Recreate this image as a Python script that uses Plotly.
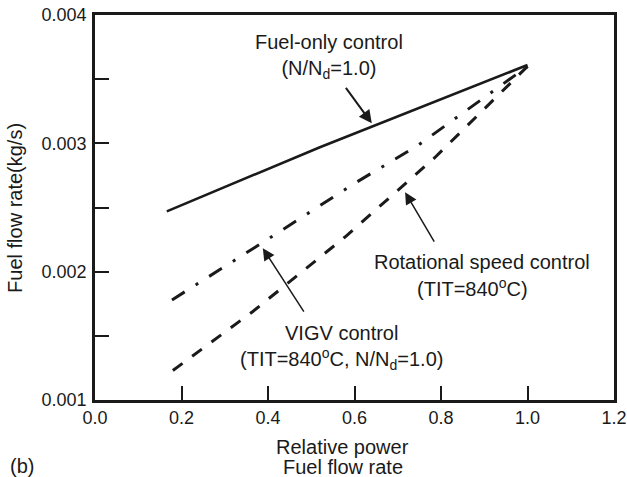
import plotly.graph_objects as go

# ---- data ----
fuel_only_x = [0.166, 0.52, 1.0]
fuel_only_y = [0.00247, 0.00297, 0.00361]

rot_speed_x = [0.178, 0.389, 0.601, 0.745, 1.0]
rot_speed_y = [0.00178, 0.00223, 0.00269, 0.00298, 0.0036]

vigv_x = [0.18, 0.365, 0.578, 0.786, 1.0]
vigv_y = [0.00123, 0.00169, 0.00227, 0.00289, 0.0036]

x_ticks = [0.0, 0.2, 0.4, 0.6, 0.8, 1.0, 1.2]
x_labels = ["0.0", "0.2", "0.4", "0.6", "0.8", "1.0", "1.2"]
y_ticks = [0.001, 0.0015, 0.002, 0.0025, 0.003, 0.0035, 0.004]
y_labels = ["0.001", "", "0.002", "", "0.003", "", "0.004"]

FONT = "Liberation Sans, Arial, sans-serif"
INK = "#1a1a1a"

fig = go.Figure()
fig.add_trace(go.Scatter(x=fuel_only_x, y=fuel_only_y, mode="lines",
                         line=dict(color=INK, width=2.6), showlegend=False))
fig.add_trace(go.Scatter(x=rot_speed_x, y=rot_speed_y, mode="lines",
                         line=dict(color=INK, width=3, dash="15px,13px,3px,13px"),
                         showlegend=False))
fig.add_trace(go.Scatter(x=vigv_x, y=vigv_y, mode="lines",
                         line=dict(color=INK, width=3, dash="12px,12px"),
                         showlegend=False))

axis_common = dict(showgrid=False, zeroline=False, showline=True, linecolor=INK,
                   linewidth=2.6, mirror=True, ticks="inside", tickcolor=INK,
                   tickwidth=2, ticklen=14, automargin=False,
                   tickfont=dict(family=FONT, size=18, color=INK))

fig.update_xaxes(range=[0, 1.2], tickvals=x_ticks, ticktext=x_labels, **axis_common)
fig.update_yaxes(range=[0.001, 0.004], tickvals=y_ticks, ticktext=y_labels,
                 ticklabelstandoff=2, **axis_common)

ann_font = dict(family=FONT, size=20, color=INK)
C = dict(xanchor="center", yanchor="middle")
annotations = [
    dict(x=0.541, y=0.003673, xref="x", yref="y", showarrow=False,
         text="Fuel-only control<br>(N/N<sub>d</sub>=1.0)", font=ann_font, align="center", **C),
    dict(x=0.895, y=0.002074, xref="x", yref="y", showarrow=False,
         text="Rotational speed control", font=ann_font, **C),
    dict(x=0.873, y=0.00188, xref="x", yref="y", showarrow=False,
         text="(TIT=840<sup>o</sup>C)", font=ann_font, **C),
    dict(x=0.569, y=0.00141, xref="x", yref="y", showarrow=False,
         text="VIGV control<br>(TIT=840<sup>o</sup>C, N/N<sub>d</sub>=1.0)",
         font=ann_font, align="center", **C),
    # arrows
    dict(x=0.640, y=0.003156, xref="x", yref="y", ax=-27, ay=-37, text="",
         showarrow=True, arrowhead=2, arrowsize=1.3, arrowwidth=2, arrowcolor=INK),
    dict(x=0.717, y=0.002619, xref="x", yref="y", ax=30, ay=51, text="",
         showarrow=True, arrowhead=2, arrowsize=1.6, arrowwidth=1.5, arrowcolor=INK),
    dict(x=0.388, y=0.002183, xref="x", yref="y", ax=42, ay=65, text="",
         showarrow=True, arrowhead=2, arrowsize=1.6, arrowwidth=1.5, arrowcolor=INK),
    # axis titles & panel label
    dict(x=0.477, y=-0.1221, xref="paper", yref="paper", showarrow=False,
         text="Relative power", font=ann_font, **C),
    dict(x=0.477, y=-0.1745, xref="paper", yref="paper", showarrow=False,
         text="Fuel flow rate", font=ann_font, **C),
    dict(x=-0.1405, y=-0.171, xref="paper", yref="paper", showarrow=False,
         text="(b)", font=ann_font, **C),
    dict(x=-0.154, y=0.499, xref="paper", yref="paper", showarrow=False,
         text="Fuel flow rate(kg/s)", textangle=-90, font=ann_font, **C),
]

fig.update_layout(width=627, height=477,
                  margin=dict(l=95, r=13, t=15, b=77, autoexpand=False),
                  paper_bgcolor="white", plot_bgcolor="white",
                  annotations=annotations, showlegend=False)

fig.write_html("out.html", config={"displayModeBar": False},
               post_script="document.body.style.margin='0';"
                           "document.body.style.overflow='hidden';")
